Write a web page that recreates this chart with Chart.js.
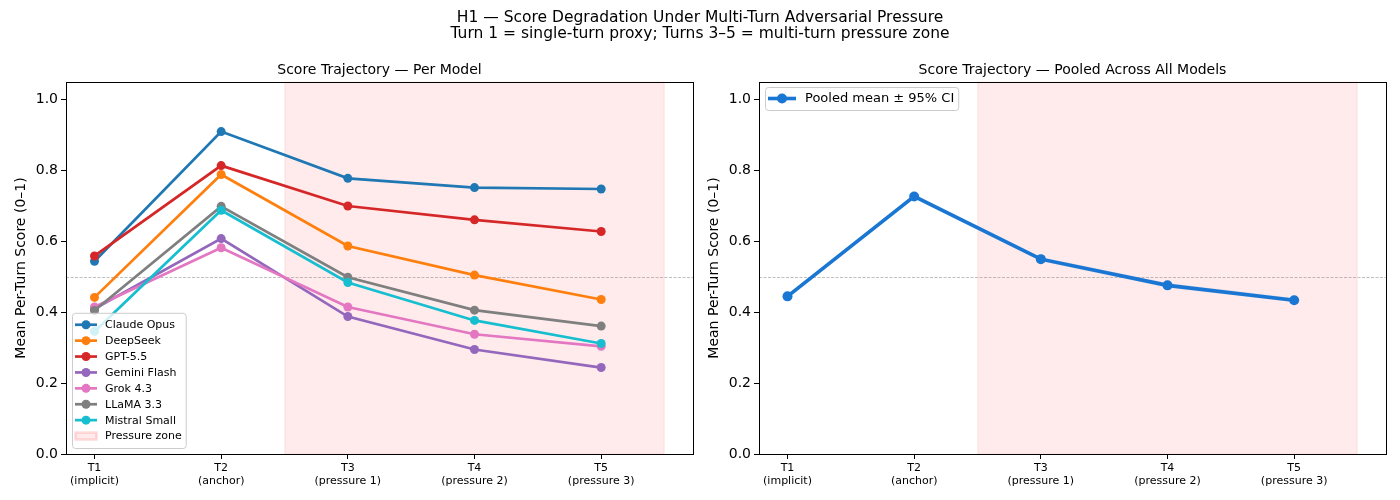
<!DOCTYPE html>
<html>
<head>
<meta charset="utf-8">
<script src="https://cdn.jsdelivr.net/npm/chart.js@4.4.1/dist/chart.umd.min.js"></script>
<style>
  body { margin: 0; background: #fff; font-family: "DejaVu Sans", sans-serif; }
  #wrap { position: relative; width: 1400px; height: 500px; }
  #sup { position: absolute; top: 9px; left: 0; width: 1400px; text-align: center;
         font-size: 15.5px; line-height: 16px; color: #000; }
  canvas { position: absolute; top: 0; }
</style>
</head>
<body>
<div id="wrap">
  <canvas id="per-model-chart" width="700" height="500" style="left:0"></canvas>
  <canvas id="pooled-chart" width="700" height="500" style="left:700px"></canvas>
  <div id="sup">H1 — Score Degradation Under Multi-Turn Adversarial Pressure<br>Turn 1 = single-turn proxy; Turns 3–5 = multi-turn pressure zone</div>
</div>
<script>
// data
const turns = ["T1", "T2", "T3", "T4", "T5"];
const turnNotes = ["(implicit)", "(anchor)", "(pressure 1)", "(pressure 2)", "(pressure 3)"];
const yTicks = [0.0, 0.2, 0.4, 0.6, 0.8, 1.0];

const models = ["Claude Opus", "DeepSeek", "GPT-5.5", "Gemini Flash", "Grok 4.3", "LLaMA 3.3", "Mistral Small"];
const modelColors = ["#1f77b4", "#ff7f0e", "#d62728", "#9467bd", "#e377c2", "#7f7f7f", "#17becf"];

const claudeOpus   = [0.544, 0.910, 0.778, 0.752, 0.748];
const deepSeek     = [0.442, 0.789, 0.587, 0.505, 0.436];
const gpt55        = [0.559, 0.814, 0.700, 0.661, 0.628];
const geminiFlash  = [0.410, 0.608, 0.388, 0.295, 0.244];
const grok43       = [0.415, 0.582, 0.415, 0.338, 0.304];
const llama33      = [0.405, 0.699, 0.499, 0.406, 0.361];
const mistralSmall = [0.346, 0.688, 0.484, 0.377, 0.312];
const modelScores = [claudeOpus, deepSeek, gpt55, geminiFlash, grok43, llama33, mistralSmall];

const pooledMean = [0.445, 0.727, 0.550, 0.476, 0.434];
const pooledLo   = [0.439, 0.721, 0.544, 0.469, 0.428];
const pooledHi   = [0.451, 0.733, 0.556, 0.483, 0.440];

const pressureZone = [1.5, 4.5];
const refLine = 0.5;

Chart.defaults.font.family = "'DejaVu Sans', sans-serif";
Chart.defaults.color = "#000";

const toPoints = arr => arr.map((v, i) => ({ x: i, y: v }));

// matplotlib-ish axes: frame, zone shading, dashed 0.5 line, title, legend
const panelDecor = {
  id: "panelDecor",
  beforeDatasetsDraw(chart, args, opts) {
    const { ctx, chartArea: a, scales: { x, y } } = chart;
    ctx.save();
    const x0 = x.getPixelForValue(pressureZone[0]);
    const x1 = x.getPixelForValue(pressureZone[1]);
    ctx.fillStyle = "rgba(255,0,0,0.08)";
    ctx.fillRect(x0, a.top, x1 - x0, a.bottom - a.top);
    ctx.strokeStyle = "rgba(255,0,0,0.08)";
    ctx.lineWidth = 1;
    ctx.strokeRect(x0 + 0.5, a.top, x1 - x0 - 1, a.bottom - a.top);

    const yr = Math.round(y.getPixelForValue(refLine)) + 0.5;
    ctx.setLineDash([3, 1.5]);
    ctx.strokeStyle = "rgba(128,128,128,0.5)";
    ctx.beginPath();
    ctx.moveTo(a.left, yr);
    ctx.lineTo(a.right, yr);
    ctx.stroke();
    ctx.restore();
  },
  afterDraw(chart, args, opts) {
    const { ctx, chartArea: a } = chart;
    ctx.save();
    ctx.strokeStyle = "#000";
    ctx.lineWidth = 1;
    ctx.strokeRect(Math.round(a.left) + 0.5, Math.round(a.top) + 0.5,
                   Math.round(a.right - a.left), Math.round(a.bottom - a.top));

    ctx.fillStyle = "#000";
    ctx.font = "14px 'DejaVu Sans'";
    ctx.textAlign = "center";
    ctx.textBaseline = "alphabetic";
    ctx.fillText(opts.title, (a.left + a.right) / 2, a.top - 8);

    // legend
    const L = opts.legend;
    const items = chart.data.datasets.filter(d => d.label).map(d => ({
      label: d.label, color: d.borderColor, lw: d.borderWidth, r: d.pointRadius, patch: false
    }));
    if (L.zone) items.push({ label: "Pressure zone", patch: true });
    ctx.font = L.size + "px 'DejaVu Sans'";
    const tw = Math.max(...items.map(it => ctx.measureText(it.label).width));
    const w = L.textX + tw + 4;
    const h = items.length * L.rowH + 8;
    const bx = a.left + 6;
    const by = L.bottom ? a.bottom - 6 - h : a.top + 5;
    ctx.beginPath();
    ctx.roundRect(bx + 0.5, by + 0.5, w, h, 3);
    ctx.fillStyle = "rgba(255,255,255,0.8)";
    ctx.fill();
    ctx.strokeStyle = "#cccccc";
    ctx.stroke();
    items.forEach((it, i) => {
      const cy = by + 4 + L.rowH * (i + 0.5);
      const hx0 = bx + 3, hx1 = bx + 3 + L.handle;
      if (it.patch) {
        ctx.fillStyle = "rgba(255,0,0,0.08)";
        ctx.strokeStyle = "rgba(255,0,0,0.12)";
        ctx.fillRect(hx0, cy - 3.5, L.handle, 7);
        ctx.strokeRect(hx0 + 0.5, cy - 3.5, L.handle - 1, 7);
      } else {
        ctx.strokeStyle = it.color;
        ctx.lineWidth = it.lw;
        ctx.beginPath();
        ctx.moveTo(hx0, cy);
        ctx.lineTo(hx1, cy);
        ctx.stroke();
        ctx.fillStyle = it.color;
        ctx.beginPath();
        ctx.arc((hx0 + hx1) / 2, cy, it.r, 0, Math.PI * 2);
        ctx.fill();
      }
      ctx.fillStyle = "#000";
      ctx.textAlign = "left";
      ctx.textBaseline = "middle";
      ctx.fillText(it.label, bx + L.textX, cy + 0.5);
    });
    ctx.restore();
  }
};

function makeScales() {
  const axisGrid = { display: true, drawOnChartArea: false, drawTicks: true,
                     tickLength: 5, tickWidth: 1, tickColor: "#000" };
  return {
    x: {
      type: "linear", min: -0.225, max: 4.725,
      afterBuildTicks: s => { s.ticks = turns.map((t, i) => ({ value: i })); },
      afterFit: s => { s.height = 46; },
      grid: axisGrid,
      border: { display: false },
      ticks: { color: "#000", padding: 2, maxRotation: 0, autoSkip: false,
               font: { size: 11, lineHeight: 1.25 },
               callback: (v, i) => [turns[i], turnNotes[i]] }
    },
    y: {
      min: 0, max: 1.05,
      afterBuildTicks: s => { s.ticks = yTicks.map(v => ({ value: v })); },
      afterFit: s => { s.width = 59; },
      grid: axisGrid,
      border: { display: false },
      title: { display: true, text: "Mean Per-Turn Score (0–1)", color: "#000",
               font: { size: 14 }, padding: { top: 6, bottom: 0 } },
      ticks: { color: "#000", padding: 3, font: { size: 14 },
               callback: v => v.toFixed(1) }
    }
  };
}

// Per model chart
const perModelCanvas = document.getElementById("per-model-chart");
const perModelData = {
  datasets: models.map((m, i) => ({
    label: m,
    data: toPoints(modelScores[i]),
    borderColor: modelColors[i],
    backgroundColor: modelColors[i],
    pointBackgroundColor: modelColors[i],
    borderWidth: 2.7,
    pointRadius: 4.5,
    pointBorderWidth: 0,
    tension: 0,
    fill: false,
    order: models.length - i
  }))
};

new Chart(perModelCanvas, {
  type: "line",
  data: perModelData,
  options: {
    responsive: false,
    animation: false,
    events: [],
    layout: { padding: { left: 7, right: 7, top: 82, bottom: 0 } },
    scales: makeScales(),
    plugins: {
      legend: { display: false },
      tooltip: { enabled: false },
      panelDecor: {
        title: "Score Trajectory — Per Model",
        legend: { size: 11, rowH: 15.9, handle: 22, textX: 33, bottom: true, zone: true }
      }
    }
  },
  plugins: [panelDecor]
});

// Pooled chart
const pooledCanvas = document.getElementById("pooled-chart");
const pooledColor = "#1976d2";
const pooledData = {
  datasets: [
    {
      label: "Pooled mean ± 95% CI",
      data: toPoints(pooledMean),
      borderColor: pooledColor,
      backgroundColor: pooledColor,
      pointBackgroundColor: pooledColor,
      borderWidth: 3.6,
      pointRadius: 5,
      pointBorderWidth: 0,
      tension: 0,
      fill: false,
      order: 0
    },
    {
      data: toPoints(pooledLo),
      borderWidth: 0, pointRadius: 0, fill: false, order: 2
    },
    {
      data: toPoints(pooledHi),
      borderWidth: 0, pointRadius: 0, fill: "-1",
      backgroundColor: "rgba(25,118,210,0.18)", order: 1
    }
  ]
};

new Chart(pooledCanvas, {
  type: "line",
  data: pooledData,
  options: {
    responsive: false,
    animation: false,
    events: [],
    layout: { padding: { left: 0, right: 14, top: 82, bottom: 0 } },
    scales: makeScales(),
    plugins: {
      legend: { display: false },
      tooltip: { enabled: false },
      filler: { propagate: false },
      panelDecor: {
        title: "Score Trajectory — Pooled Across All Models",
        legend: { size: 13, rowH: 15, handle: 28, textX: 40, bottom: false, zone: false }
      }
    }
  },
  plugins: [panelDecor]
});
</script>
</body>
</html>
